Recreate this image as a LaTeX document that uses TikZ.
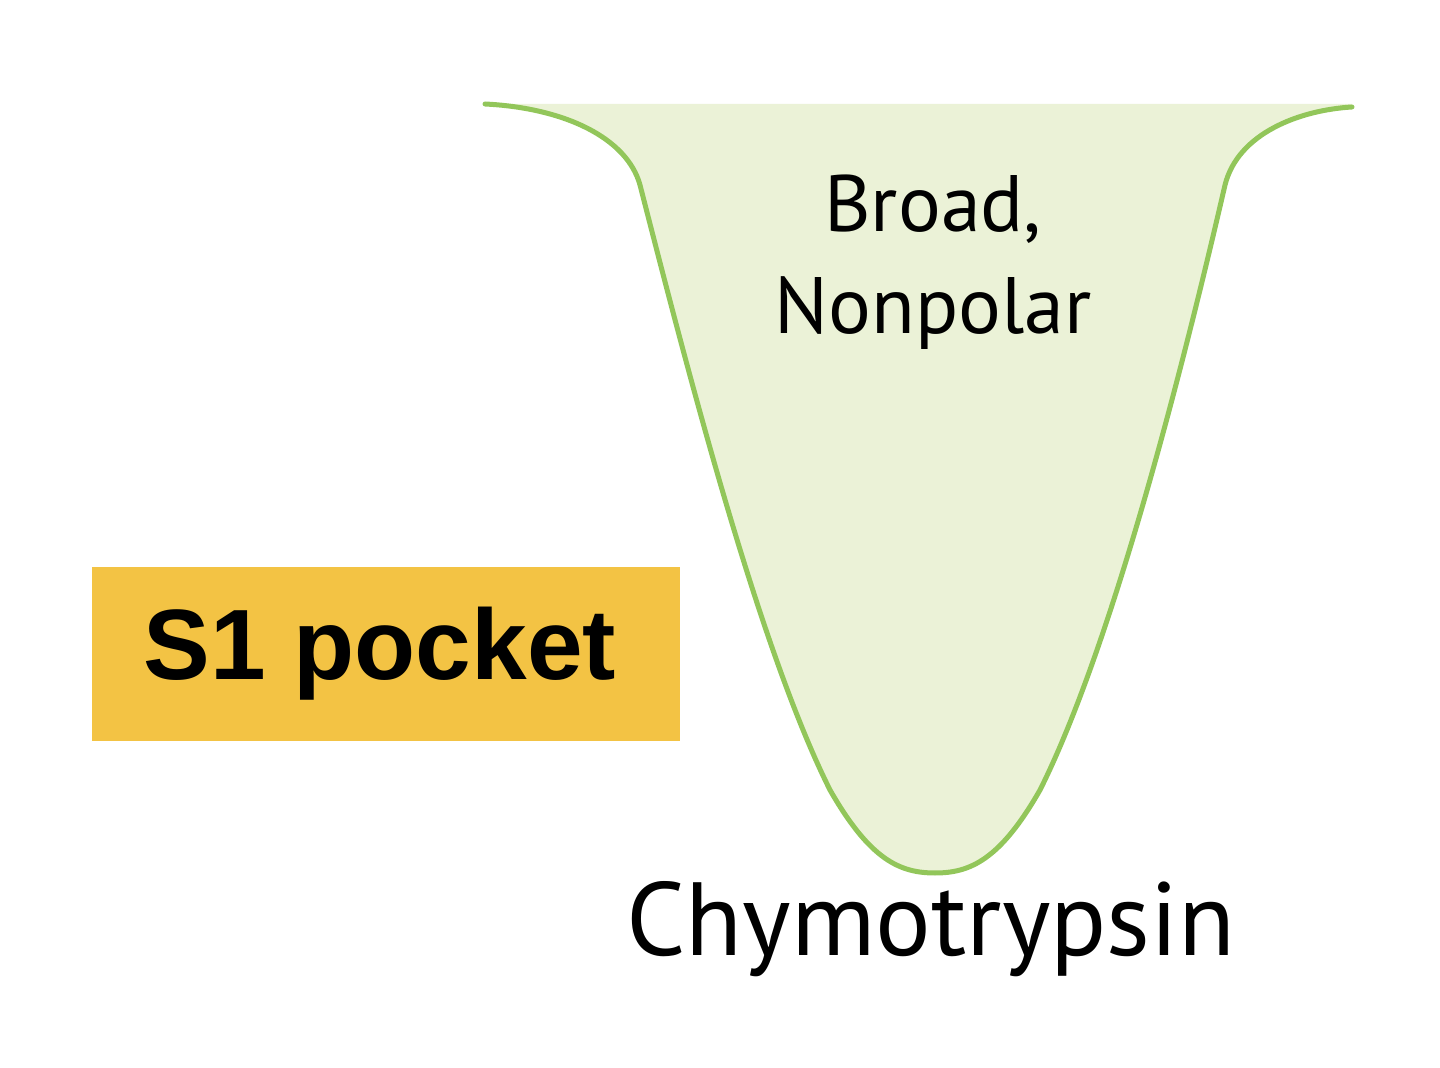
\documentclass[tikz,border=0pt]{standalone}
\usepackage{fontspec}
\setmainfont{PT Sans}
\newfontfamily\labelfont{Liberation Sans}
\usetikzlibrary{positioning}

\definecolor{pocketfill}{HTML}{EBF2D7}
\definecolor{pocketline}{HTML}{92C65A}
\definecolor{tagyellow}{HTML}{F3C344}

\tikzset{
  pockettext/.style={font=\fontsize{40}{51}\selectfont, align=center, inner sep=0pt},
  enzymetext/.style={font=\fontsize{52}{60}\selectfont, inner sep=0pt},
  tagbox/.style={fill=tagyellow, minimum width=294pt, minimum height=87pt, inner sep=0pt,
    font=\labelfont\bfseries\fontsize{50}{58}\selectfont}
}

\begin{document}
\begin{tikzpicture}[x=0.5pt,y=-0.5pt]
  \useasboundingbox (0,0) rectangle (1440,1068);

  % pocket fill
  \fill[pocketfill] (485,104) .. controls (565,108) and (627,138) .. (640,185)
    .. controls (690,380) and (760,650) .. (830,790)
    .. controls (870,860) and (900,873) .. (935,873)
    .. controls (970,873) and (1000,860) .. (1040,790)
    .. controls (1110,650) and (1180,380) .. (1225,185)
    .. controls (1238,133) and (1300,110) .. (1352,107)
    -- (1352,104) -- cycle;
  % pocket outline
  \draw[pocketline, line width=2.5pt, line cap=round]
    (485,104) .. controls (565,108) and (627,138) .. (640,185)
    .. controls (690,380) and (760,650) .. (830,790)
    .. controls (870,860) and (900,873) .. (935,873)
    .. controls (970,873) and (1000,860) .. (1040,790)
    .. controls (1110,650) and (1180,380) .. (1225,185)
    .. controls (1238,133) and (1300,110) .. (1352,107);

  \node[pockettext] (broad) at (933,262) {Broad,\\Nonpolar};
  \node[enzymetext] (chymo) at (931,929) {Chymotrypsin};
  \node[tagbox] (tag) at (386,654) {\hspace*{-6pt}S1 pocket};
\end{tikzpicture}
\end{document}
